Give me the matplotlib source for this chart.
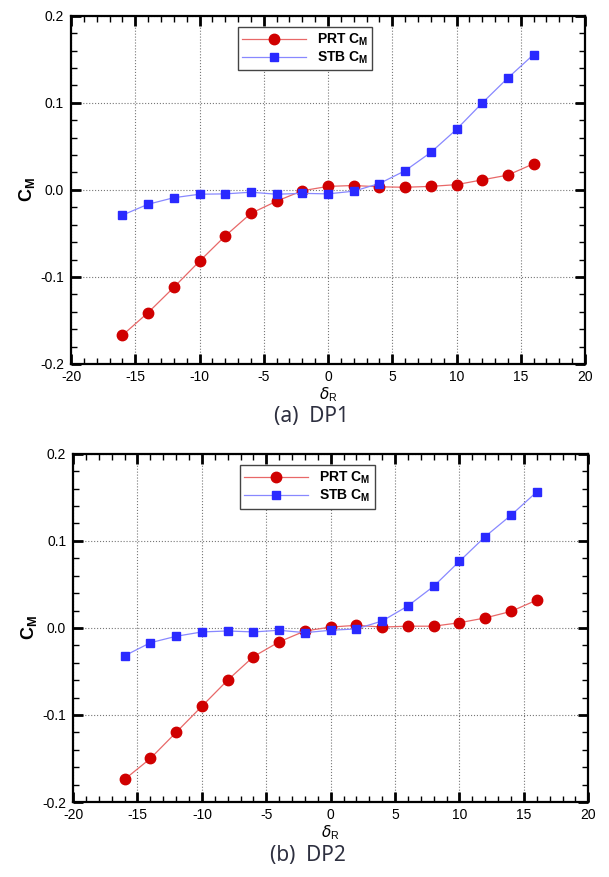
"""
PRT / STB C_M vs rudder angle, DP1 and DP2
"""

import matplotlib
matplotlib.use("Agg")
import matplotlib.pyplot as plt
from matplotlib.ticker import MultipleLocator

plt.rcParams["font.family"] = ["Liberation Sans", "DejaVu Sans"]

delta_r = [-16, -14, -12, -10, -8, -6, -4, -2, 0, 2, 4, 6, 8, 10, 12, 14, 16]

# DP1
prt_dp1 = [-0.167, -0.141, -0.112, -0.082, -0.053, -0.027, -0.013, -0.001, 0.004,
           0.005, 0.0035, 0.003, 0.004, 0.006, 0.0115, 0.017, 0.030]
stb_dp1 = [-0.029, -0.0165, -0.009, -0.005, -0.0046, -0.0027, -0.005, -0.004, -0.0046,
           -0.0015, 0.0073, 0.022, 0.043, 0.0695, 0.0998, 0.1286, 0.1555]

# DP2
prt_dp2 = [-0.174, -0.150, -0.120, -0.090, -0.060, -0.033, -0.016, -0.0035, 0.001,
           0.003, 0.001, 0.002, 0.002, 0.006, 0.0115, 0.019, 0.032]
stb_dp2 = [-0.032, -0.017, -0.0096, -0.0046, -0.0035, -0.0046, -0.0027, -0.0054, -0.0027,
           -0.0011, 0.008, 0.0253, 0.0479, 0.0766, 0.105, 0.1295, 0.1563]

x_ticks = [-20, -15, -10, -5, 0, 5, 10, 15, 20]
y_ticks = [-0.2, -0.1, 0.0, 0.1, 0.2]
y_labels = ["-0.2", "-0.1", "0.0", "0.1", "0.2"]

# (caption, prt, stb, axes rect, caption x, caption y)
panels = [
    ("(a)  DP1", prt_dp1, stb_dp1, [0.1166, 0.585, 0.844, 0.397], 0.512, 0.525),
    ("(b)  DP2", prt_dp2, stb_dp2, [0.1200, 0.0855, 0.846, 0.397], 0.505, 0.025),
]

fig = plt.figure(figsize=(6.09, 8.77), dpi=100)

for caption, prt, stb, rect, cx, cy in panels:
    ax = fig.add_axes(rect)
    ax.plot(delta_r, prt, color="#e86868", linewidth=0.9, marker="o", markersize=7.5,
            markerfacecolor="#d00000", markeredgecolor="#d00000",
            label="PRT C$_\\mathregular{M}$")
    ax.plot(delta_r, stb, color="#8888ff", linewidth=0.9, marker="s", markersize=5.8,
            markerfacecolor="#2a2aff", markeredgecolor="#2a2aff",
            label="STB C$_\\mathregular{M}$")

    ax.set_xlim(-20, 20)
    ax.set_ylim(-0.2, 0.2)
    ax.set_xticks(x_ticks)
    ax.set_xticklabels([str(v) for v in x_ticks])
    ax.set_yticks(y_ticks)
    ax.set_yticklabels(y_labels)
    ax.xaxis.set_minor_locator(MultipleLocator(1))
    ax.yaxis.set_minor_locator(MultipleLocator(0.02))

    ax.tick_params(which="major", direction="in", length=7, width=2, top=True, right=True,
                   labelsize=10)
    ax.tick_params(axis="y", which="major", pad=5)
    ax.tick_params(axis="x", which="major", pad=4)
    ax.tick_params(which="minor", direction="in", length=4, width=1, top=True, right=True)
    for sp in ax.spines.values():
        sp.set_linewidth(1.6)

    ax.grid(True, which="major", linestyle=":", color="#777777", linewidth=0.8)

    ax.set_ylabel("C$_\\mathregular{M}$", fontsize=13, fontweight="bold", labelpad=2)
    ax.set_xlabel("$\\delta_\\mathregular{R}$", fontsize=11, labelpad=1)

    leg = ax.legend(loc="upper left", bbox_to_anchor=(0.324, 0.967), fancybox=False,
                    edgecolor="#444444", framealpha=1, handlelength=4.6,
                    prop={"weight": "bold", "size": 10}, borderpad=0.3,
                    labelspacing=0.15, borderaxespad=0, handletextpad=0.8)
    leg.get_frame().set_linewidth(1.0)

    fig.text(cx, cy, caption, ha="center", va="center", fontsize=15,
             color="#2e3040", family=["Noto Sans", "DejaVu Sans"])

plt.savefig("out.png", dpi=100)
plt.close()
